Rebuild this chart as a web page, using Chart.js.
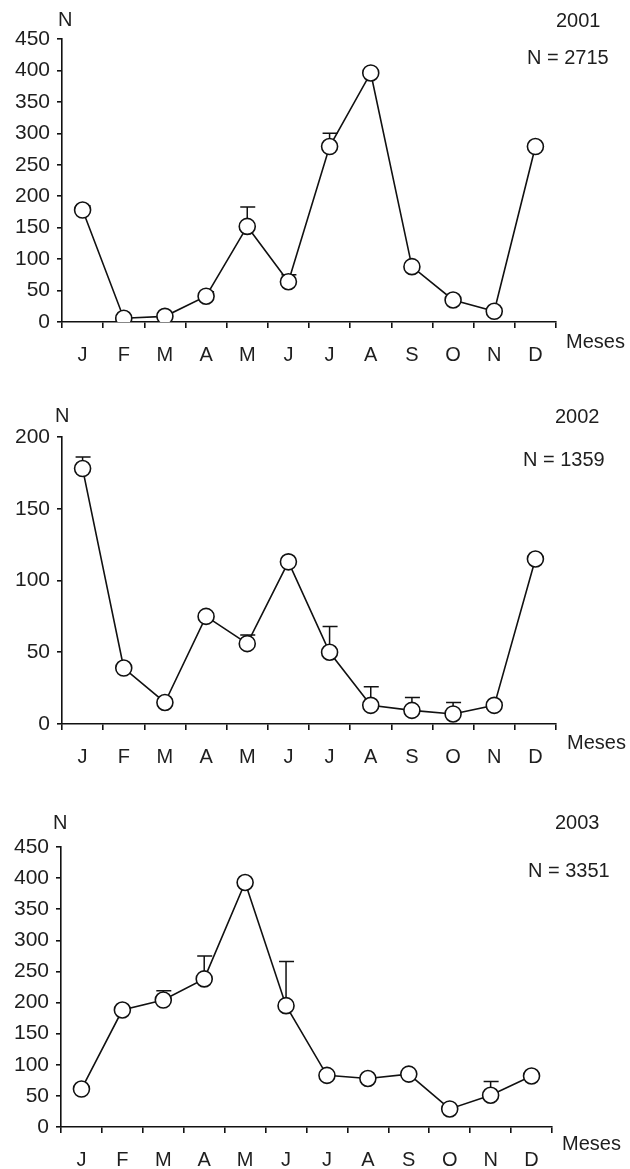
<!DOCTYPE html>
<html>
<head>
<meta charset="utf-8">
<script src="https://cdn.jsdelivr.net/npm/chart.js@4.4.0/dist/chart.umd.min.js"></script>
<style>
  body { margin: 0; background: #fff; width: 630px; height: 1169px; position: relative; overflow: hidden; }
  canvas { position: absolute; left: 0; }
  .lbl { position: absolute; font-family: "Liberation Sans", Arial, sans-serif; font-size: 20px; line-height: 20px; color: #1e1e1e; white-space: nowrap; }
</style>
</head>
<body>
<canvas id="c2001"></canvas>
<canvas id="c2002"></canvas>
<canvas id="c2003"></canvas>

<div class="lbl" style="left:58px; top:9px;">N</div>
<div class="lbl" style="left:556px; top:10px;">2001</div>
<div class="lbl" style="left:527px; top:47px;">N = 2715</div>
<div class="lbl" style="left:566px; top:331px;">Meses</div>

<div class="lbl" style="left:55px; top:405px;">N</div>
<div class="lbl" style="left:555px; top:406px;">2002</div>
<div class="lbl" style="left:523px; top:449px;">N = 1359</div>
<div class="lbl" style="left:567px; top:732px;">Meses</div>

<div class="lbl" style="left:53px; top:812px;">N</div>
<div class="lbl" style="left:555px; top:812px;">2003</div>
<div class="lbl" style="left:528px; top:860px;">N = 3351</div>
<div class="lbl" style="left:562px; top:1133px;">Meses</div>

<script>
// meses
const months = ['J', 'F', 'M', 'A', 'M', 'J', 'J', 'A', 'S', 'O', 'N', 'D'];

// 2001
const values2001 = [178, 6, 9, 41, 152, 64, 279, 396, 88, 35, 17, 279];
const err2001 = [7, 0, 0, 7, 31, 11, 21, 0, 0, 0, 0, 3];
const yTicks2001 = [0, 50, 100, 150, 200, 250, 300, 350, 400, 450];

// 2002
const values2002 = [178, 39, 15, 75, 56, 113, 50, 13, 9.5, 7, 13, 115];
const err2002 = [8, 0, 2, 2, 6, 1, 18, 13, 9, 8, 2, 1];
const yTicks2002 = [0, 50, 100, 150, 200];

// 2003
const values2003 = [61, 188, 204, 238, 393, 195, 83, 78, 85, 29, 51, 82];
const err2003 = [0, 0, 15, 37, 0, 71, 0, 0, 0, 0, 22, 0];
const yTicks2003 = [0, 50, 100, 150, 200, 250, 300, 350, 400, 450];

const FONT = "'Liberation Sans', Arial, sans-serif";
const INK = '#1e1e1e';

// barras de erro (so para cima), desenhadas antes dos pontos
const errorBars = {
    id: 'errorBars',
    beforeDatasetsDraw(chart, args, opts) {
        const ctx = chart.ctx;
        const x = chart.scales.x, y = chart.scales.y;
        const vals = chart.data.datasets[0].data;
        ctx.save();
        ctx.strokeStyle = '#111';
        ctx.lineWidth = 1.5;
        opts.err.forEach((e, i) => {
            if (!e) return;
            const px = x.getPixelForValue(i);
            const y0 = y.getPixelForValue(vals[i]);
            const y1 = y.getPixelForValue(vals[i] + e);
            ctx.beginPath();
            ctx.moveTo(px, y0);
            ctx.lineTo(px, y1);
            ctx.moveTo(px - 7, y1);
            ctx.lineTo(px + 8, y1);
            ctx.stroke();
        });
        ctx.restore();
    }
};

function makePanel(id, canvasTop, canvasHeight, area, values, err, yTicks) {
    const canvas = document.getElementById(id);
    canvas.style.top = canvasTop + 'px';
    canvas.width = 630;
    canvas.height = canvasHeight;
    canvas.style.width = '630px';
    canvas.style.height = canvasHeight + 'px';

    const yMax = yTicks[yTicks.length - 1];
    const step = yTicks[1] - yTicks[0];

    new Chart(canvas.getContext('2d'), {
        type: 'line',
        data: {
            labels: months,
            datasets: [{
                data: values,
                borderColor: '#111',
                borderWidth: 1.6,
                pointRadius: 8,
                pointBorderWidth: 1.6,
                pointBackgroundColor: '#fff',
                pointBorderColor: '#111',
                tension: 0
            }]
        },
        options: {
            responsive: false,
            animation: false,
            events: [],
            layout: { padding: { top: area.top - canvasTop, right: 630 - area.right, left: 0, bottom: 0 } },
            plugins: {
                legend: { display: false },
                tooltip: { enabled: false },
                errorBars: { err: err }
            },
            scales: {
                x: {
                    type: 'category',
                    offset: true,
                    border: { color: '#111', width: 1.6 },
                    grid: { offset: true, drawOnChartArea: false, drawTicks: true, tickLength: 6, color: '#111', lineWidth: 1.6 },
                    ticks: { color: INK, font: { family: FONT, size: 20 }, padding: 15, maxRotation: 0, autoSkip: false },
                    afterFit(scale) { scale.height = canvasTop + canvasHeight - area.bottom; }
                },
                y: {
                    min: 0,
                    max: yMax,
                    border: { color: '#111', width: 1.6 },
                    grid: { drawOnChartArea: false, drawTicks: true, tickLength: 5, color: '#111', lineWidth: 1.6 },
                    ticks: { stepSize: step, color: INK, font: { family: FONT, size: 21 }, padding: 7 },
                    afterFit(scale) { scale.width = area.left; }
                }
            }
        },
        plugins: [errorBars]
    });
}

makePanel('c2001', 0, 375, { top: 39, bottom: 322, left: 62, right: 556 }, values2001, err2001, yTicks2001);
makePanel('c2002', 380, 395, { top: 437, bottom: 724, left: 62, right: 556 }, values2002, err2002, yTicks2002);
makePanel('c2003', 790, 379, { top: 847, bottom: 1127, left: 61, right: 552 }, values2003, err2003, yTicks2003);
</script>
</body>
</html>
